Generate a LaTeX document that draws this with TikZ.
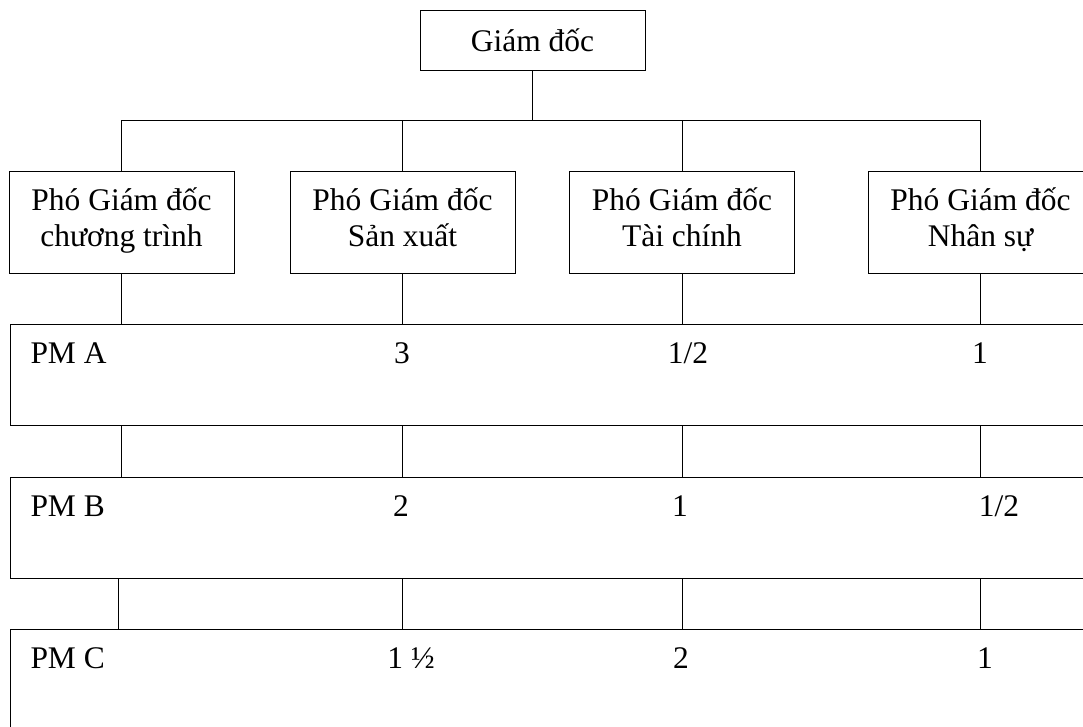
\documentclass[tikz,border=0pt]{standalone}
\usepackage{fontspec}
\setmainfont{Liberation Serif}
% fixed first-line height and last-line depth so all two-line boxes align
\newcommand\firstlinestrut{\rule{0pt}{0.9em}}
\newcommand\lastlinestrut{\rule[-0.33em]{0pt}{0.33em}}
\begin{document}
\begin{tikzpicture}[x=0.75pt,y=-0.75pt,
  line width=0.75pt,
  every node/.style={font=\fontsize{23.6pt}{27pt}\selectfont},
  orgbox/.style={draw, rectangle, inner sep=0pt, align=center,
    minimum width=168.75pt},
  vpbox/.style={orgbox, minimum height=76.5pt,
    execute at begin node=\firstlinestrut,
    execute at end node=\lastlinestrut},
  pmrow/.style={draw, rectangle, inner sep=0pt, anchor=north west,
    minimum width=817.5pt, minimum height=75.75pt},
  cell/.style={inner sep=0pt, anchor=base},
  rowlabel/.style={inner sep=0pt, anchor=base west}]
  \clip (0,0) rectangle (1083,726);

  % director
  \node[orgbox, minimum height=45pt] (gd) at (532.5,40) {Giám đốc};

  % deputy directors
  \node[vpbox] (vp1) at (121.5,222) {Phó Giám đốc\\chương trình};
  \node[vpbox] (vp2) at (402.5,222) {Phó Giám đốc\\Sản xuất};
  \node[vpbox] (vp3) at (682,222) {Phó Giám đốc\\Tài chính};
  \node[vpbox] (vp4) at (980.5,222) {Phó Giám đốc\\Nhân sự};

  % project manager rows
  \node[pmrow] (pmA) at (10,324) {};
  \node[pmrow] (pmB) at (10,477) {};
  \node[pmrow] (pmC) at (10,629) {};

  % bus from director to deputies
  \coordinate (bus) at (0,120);
  \draw (gd.south) -- (gd.south |- bus);
  \draw (vp1.north) -- (vp1.north |- bus) -- (vp4.north |- bus) -- (vp4.north);
  \draw (vp2.north) -- (vp2.north |- bus);
  \draw (vp3.north) -- (vp3.north |- bus);

  % deputies to row A, row A to row B, row B to row C
  \foreach \v in {vp1,vp2,vp3,vp4} {
    \draw (\v.south) -- (\v.south |- pmA.north);
    \draw (\v.south |- pmA.south) -- (\v.south |- pmB.north);
  }
  \draw ([xshift=-2.25pt]vp1.south |- pmB.south) -- ([xshift=-2.25pt]vp1.south |- pmC.north);
  \foreach \v in {vp2,vp3,vp4}
    \draw (\v.south |- pmB.south) -- (\v.south |- pmC.north);

  % row A
  \node[rowlabel] (la) at (30,363) {PM A};
  \node[cell] (a2) at (402,363) {3};
  \node[cell] (a3) at (688,363) {1/2};
  \node[cell] (a4) at (980,363) {1};

  % row B
  \node[rowlabel] (lb) at (30,516) {PM B};
  \node[cell] (b2) at (401,516) {2};
  \node[cell] (b3) at (680,516) {1};
  \node[cell] (b4) at (999,516) {1/2};

  % row C
  \node[rowlabel] (lc) at (30,668) {PM C};
  \node[cell] (c2) at (411,668) {1 ½};
  \node[cell] (c3) at (681,668) {2};
  \node[cell] (c4) at (985,668) {1};
\end{tikzpicture}
\end{document}
